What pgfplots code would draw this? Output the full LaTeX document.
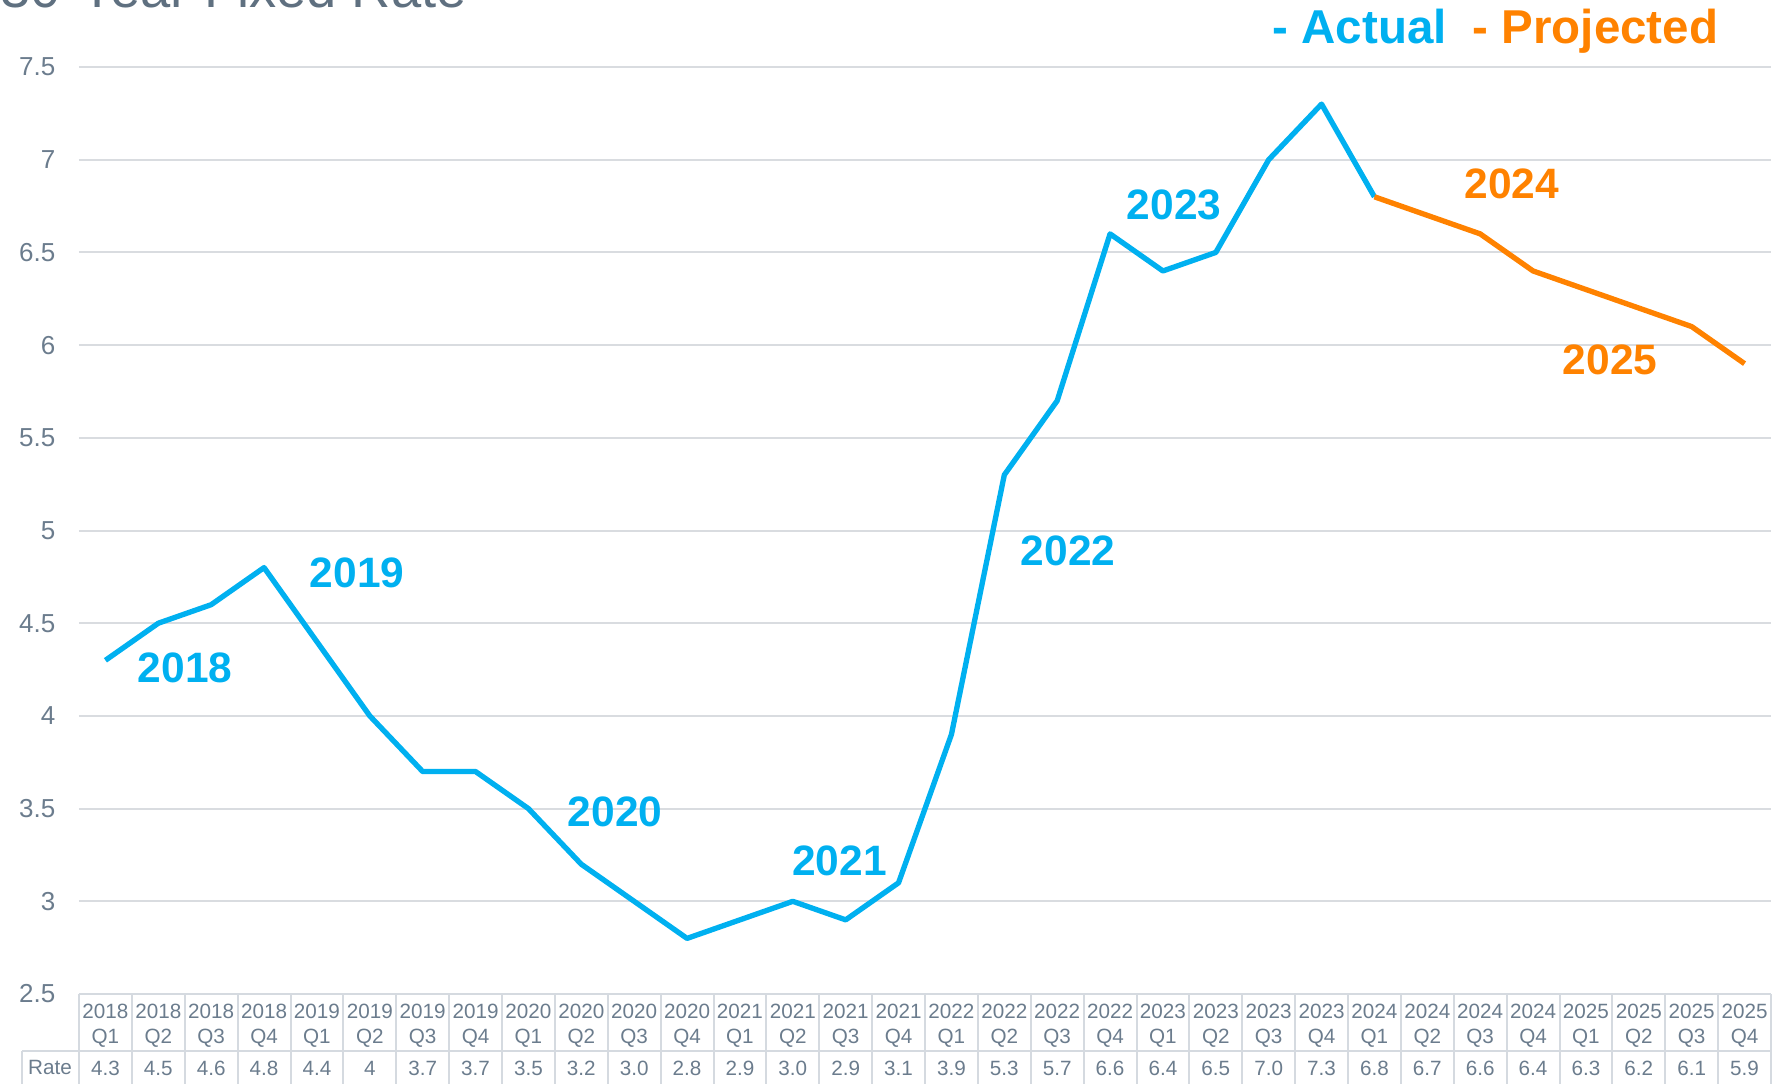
\documentclass[border=0pt]{standalone}
\usepackage{pgfplots}
\pgfplotsset{compat=1.18}
\usepackage{fontspec}
\setmainfont{Liberation Sans}
\definecolor{cblue}{HTML}{00B0F0}
\definecolor{corange}{HTML}{FF8200}
\definecolor{slate}{HTML}{6B7C8D}
\definecolor{titlegray}{HTML}{5F7080}
\definecolor{gridgray}{HTML}{D9DCE0}
\definecolor{tablegray}{HTML}{D5DAE0}
\begin{document}
\begin{tikzpicture}
\node[anchor=base west, inner sep=0pt, font=\fontsize{16.3}{18}\selectfont, text=titlegray] at (0pt,-2.3pt) {30-Year Fixed Rate};
\begin{axis}[
  at={(23.7pt,-298.2pt)}, anchor=south west,
  scale only axis, width=507.6pt, height=278.1pt,
  xmin=-0.5, xmax=31.5, ymin=2.5, ymax=7.5,
  axis line style={draw=none},
  major tick length=0pt,
  ymajorgrids,
  grid style={gridgray, line width=0.6pt},
  ytick={2.5,3,3.5,4,4.5,5,5.5,6,6.5,7,7.5},
  /pgf/number format/assume math mode=true,
  yticklabel style={anchor=east, inner sep=0pt, xshift=-6.9pt, font=\fontsize{7.8}{9}\selectfont, text=slate},
  xtick={0,...,31},
  xticklabels={
    {2018\\Q1\\[2.1pt]4.3},{2018\\Q2\\[2.1pt]4.5},{2018\\Q3\\[2.1pt]4.6},{2018\\Q4\\[2.1pt]4.8},
    {2019\\Q1\\[2.1pt]4.4},{2019\\Q2\\[2.1pt]4},{2019\\Q3\\[2.1pt]3.7},{2019\\Q4\\[2.1pt]3.7},
    {2020\\Q1\\[2.1pt]3.5},{2020\\Q2\\[2.1pt]3.2},{2020\\Q3\\[2.1pt]3.0},{2020\\Q4\\[2.1pt]2.8},
    {2021\\Q1\\[2.1pt]2.9},{2021\\Q2\\[2.1pt]3.0},{2021\\Q3\\[2.1pt]2.9},{2021\\Q4\\[2.1pt]3.1},
    {2022\\Q1\\[2.1pt]3.9},{2022\\Q2\\[2.1pt]5.3},{2022\\Q3\\[2.1pt]5.7},{2022\\Q4\\[2.1pt]6.6},
    {2023\\Q1\\[2.1pt]6.4},{2023\\Q2\\[2.1pt]6.5},{2023\\Q3\\[2.1pt]7.0},{2023\\Q4\\[2.1pt]7.3},
    {2024\\Q1\\[2.1pt]6.8},{2024\\Q2\\[2.1pt]6.7},{2024\\Q3\\[2.1pt]6.6},{2024\\Q4\\[2.1pt]6.4},
    {2025\\Q1\\[2.1pt]6.3},{2025\\Q2\\[2.1pt]6.2},{2025\\Q3\\[2.1pt]6.1},{2025\\Q4\\[2.1pt]5.9}},
  xticklabel style={align=center, anchor=north, inner sep=0pt, yshift=-2.8pt, font=\fontsize{6.2}{7.5}\selectfont, text=slate},
  clip=false,
]
\addplot[cblue, line width=1.6pt, line join=round] coordinates {
  (0,4.3) (1,4.5) (2,4.6) (3,4.8) (4,4.4) (5,4.0) (6,3.7) (7,3.7)
  (8,3.5) (9,3.2) (10,3.0) (11,2.8) (12,2.9) (13,3.0) (14,2.9) (15,3.1)
  (16,3.9) (17,5.3) (18,5.7) (19,6.6) (20,6.4) (21,6.5) (22,7.0) (23,7.3)
  (24,6.8)};
\addplot[corange, line width=1.6pt, line join=round] coordinates {
  (24,6.8) (25,6.7) (26,6.6) (27,6.4) (28,6.3) (29,6.2) (30,6.1) (31,5.9)};
\tikzset{yr/.style={font=\bfseries\fontsize{12.75}{14}\selectfont, inner sep=0pt}}
\node[yr, text=cblue] at (axis cs:1.505,4.258) {2018};
\node[yr, text=cblue] at (axis cs:4.758,4.771) {2019};
\node[yr, text=cblue] at (axis cs:9.638,3.482) {2020};
\node[yr, text=cblue] at (axis cs:13.884,3.217) {2021};
\node[yr, text=cblue] at (axis cs:18.205,4.889) {2022};
\node[yr, text=cblue] at (axis cs:20.21,6.756) {2023};
\node[yr, text=corange] at (axis cs:26.60,6.869) {2024};
\node[yr, text=corange] at (axis cs:28.456,5.920) {2025};
\end{axis}
% data table borders
\foreach \k in {0,...,32} \draw[tablegray, line width=0.6pt] ({23.7pt+\k*15.8625pt},-298.2pt) -- ({23.7pt+\k*15.8625pt},-330pt);
\draw[tablegray, line width=0.6pt] (23.7pt,-298.2pt) -- (531.3pt,-298.2pt);
\draw[tablegray, line width=0.6pt] (6.6pt,-315.3pt) -- (531.3pt,-315.3pt);
\draw[tablegray, line width=0.6pt] (6.6pt,-315.3pt) -- (6.6pt,-330pt);
\node[inner sep=0pt, font=\fontsize{6.2}{7.5}\selectfont, text=slate] at (15pt,-320.3pt) {Rate};
% legend text
\node[anchor=base west, inner sep=0pt, font=\bfseries\fontsize{14.25}{16}\selectfont, text=cblue] at (381.6pt,-12.9pt) {- Actual};
\node[anchor=base west, inner sep=0pt, font=\bfseries\fontsize{14.25}{16}\selectfont, text=corange] at (441.6pt,-12.9pt) {- Projected};
\pgfresetboundingbox
\useasboundingbox (0pt,0pt) rectangle (535.5pt,-324.9pt);
\end{tikzpicture}
\end{document}
